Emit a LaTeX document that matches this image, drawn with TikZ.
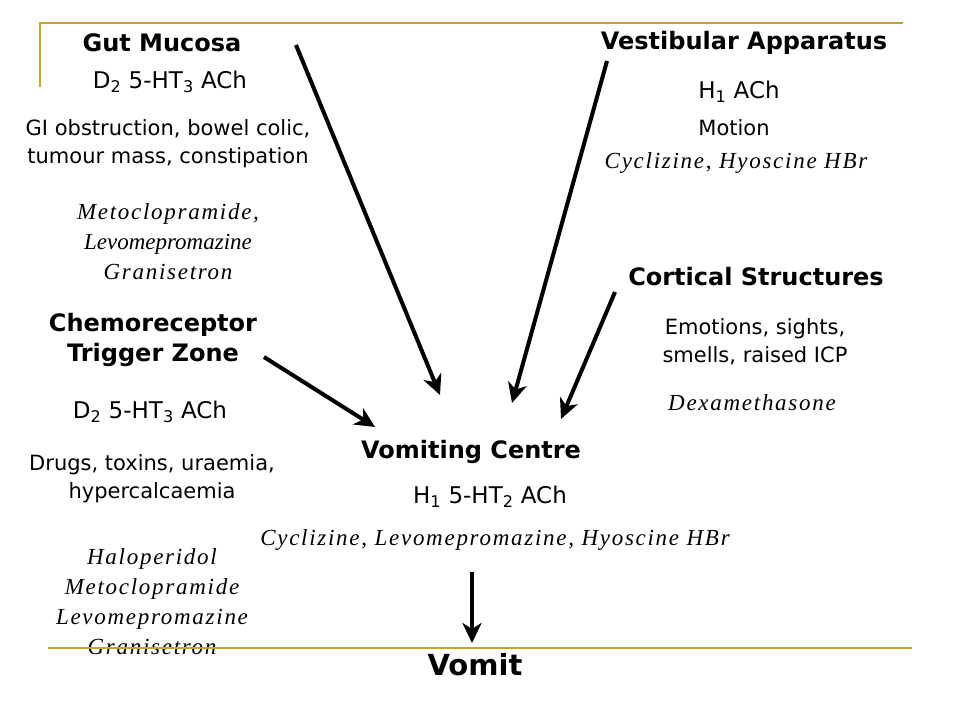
\documentclass[tikz,border=0pt]{standalone}
\usepackage{fontspec}
\setmainfont{Liberation Serif}
\setsansfont{DejaVu Sans}
\usepackage{xcolor}
\usetikzlibrary{arrows.meta}
\definecolor{rulegold}{RGB}{200,163,45}
\newcommand{\sub}[1]{\textsubscript{#1}}
\newcommand{\tight}[1]{{\addfontfeatures{LetterSpace=0}#1}}

\begin{document}
\begin{tikzpicture}[x=1pt,y=-1pt,
  hd/.style={font=\sffamily\bfseries\fontsize{24}{30}\selectfont,align=center,inner sep=0pt},
  rec/.style={font=\sffamily\fontsize{23}{28}\selectfont,inner sep=0pt},
  txt/.style={font=\sffamily\fontsize{21}{28}\selectfont,align=center,inner sep=0pt},
  drug/.style={font=\itshape\fontsize{23}{30}\selectfont\addfontfeatures{LetterSpace=7.5},
               align=center,inner sep=0pt},
  arr/.style={-{Stealth[length=20pt,width=19pt,inset=6pt]},line width=4pt},
  rule/.style={draw=rulegold,line width=2.5pt}
]
\useasboundingbox (0,0) rectangle (960,720);

% gut mucosa (top left)
\node[hd]   (gut)      at (162, 43) {Gut Mucosa};
\node[rec]  (gutrec)   at (170, 82) {D\sub{2} 5-HT\sub{3} ACh};
\node[txt]  (gutcause) at (168,144) {GI obstruction, bowel colic,\\tumour mass, constipation};
\node[drug] (gutdrug)  at (168,242) {Metoclopramide,\\\tight{Levomepromazine}\\Granisetron};

% vestibular apparatus (top right)
\node[hd]   (vest)      at (744, 43) {Vestibular Apparatus};
\node[rec]  (vestrec)   at (739, 92) {H\sub{1} ACh};
\node[txt]  (vestcause) at (734,128) {Motion};
\node[drug] (vestdrug)  at (736,163) {Cyclizine, Hyoscine HBr};

% cortical structures
\node[hd]   (cort)      at (756,277) {Cortical Structures};
\node[txt]  (cortcause) at (755,342) {Emotions, sights,\\smells, raised ICP};
\node[drug] (cortdrug)  at (752,403) {Dexamethasone};

% chemoreceptor trigger zone
\node[hd]   (ctz)      at (153,340) {Chemoreceptor\\Trigger Zone};
\node[rec]  (ctzrec)   at (150,412) {D\sub{2} 5-HT\sub{3} ACh};
\node[txt]  (ctzcause) at (152,479) {Drugs, toxins, uraemia,\\hypercalcaemia};
\node[drug] (ctzdrug)  at (152,602) {Haloperidol\\Metoclopramide\\Levomepromazine\\Granisetron};

% vomiting centre
\node[hd]   (vc)     at (471,452) {Vomiting Centre};
\node[rec]  (vcrec)  at (490,497) {H\sub{1} 5-HT\sub{2} ACh};
\node[drug] (vcdrug) at (495,540) {Cyclizine, Levomepromazine, Hyoscine HBr};
\node[font=\sffamily\bfseries\fontsize{29}{32}\selectfont,inner sep=0pt] (vomit) at (475,665) {Vomit};

% arrow ends
\coordinate (gutS)  at (296, 45);  \coordinate (gutE)  at (440,395);
\coordinate (vestS) at (607, 61);  \coordinate (vestE) at (512,403);
\coordinate (cortS) at (615,292);  \coordinate (cortE) at (561,419);
\coordinate (ctzS)  at (264,357);  \coordinate (ctzE)  at (375,427);
\coordinate (vcS)   at (472,572);  \coordinate (vcE)   at (472,643);

\draw[arr] (gutS) -- (gutE);
\draw[arr] (vestS) -- (vestE);
\draw[arr] (cortS) -- (cortE);
\draw[arr] (ctzS) -- (ctzE);
\draw[arr] (vcS) -- (vcE);

% gold rules
\draw[rule] (40,87) |- (903,23);
\draw[rule] (48,648) -- (912,648);
\end{tikzpicture}
\end{document}
